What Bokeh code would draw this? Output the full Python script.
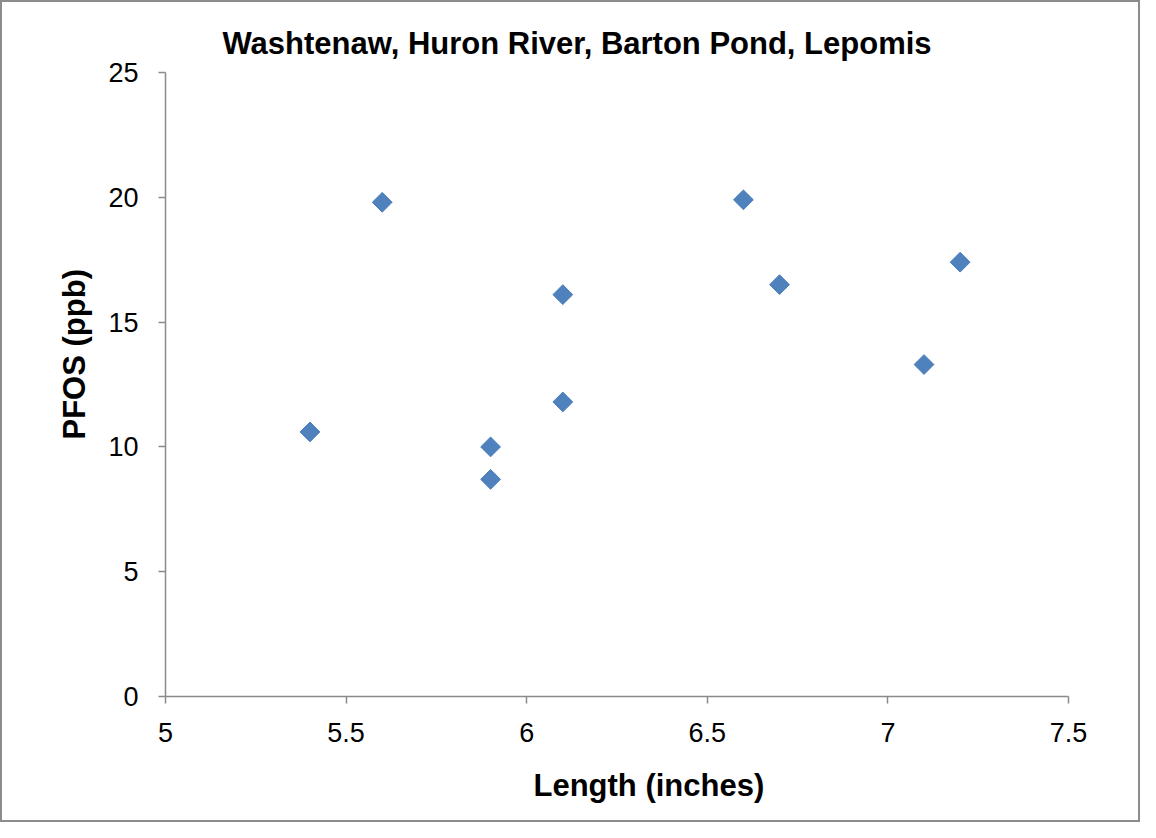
import math
from bokeh.plotting import figure
from bokeh.models import FixedTicker, Range1d, ColumnDataSource, Title
from bokeh.embed import file_html
from bokeh.resources import INLINE

# ---- data ----
length_in = [5.4, 5.6, 5.9, 5.9, 6.1, 6.1, 6.6, 6.7, 7.1, 7.2]
pfos_ppb = [10.6, 19.8, 10.0, 8.7, 16.1, 11.8, 19.9, 16.5, 13.3, 17.4]

x_ticks = [5, 5.5, 6, 6.5, 7, 7.5]
x_tick_labels = ["5", "5.5", "6", "6.5", "7", "7.5"]
y_ticks = [0, 5, 10, 15, 20, 25]
y_tick_labels = ["0", "5", "10", "15", "20", "25"]

title_text = "Washtenaw, Huron River, Barton Pond, Lepomis"
x_label = "Length (inches)"
y_label = "PFOS (ppb)"

FONT = "Liberation Sans"
AXIS_COLOR = "#8a8a8a"

p = figure(
    width=1140, height=822,
    x_range=Range1d(5, 7.5), y_range=Range1d(0, 25),
    output_backend="svg", toolbar_location=None,
    min_border_left=163, min_border_right=74,
    min_border_top=70, min_border_bottom=128,
)
p.styles = {"border": "2px solid #8c8c8c"}
p.outline_line_color = None
p.xgrid.visible = False
p.ygrid.visible = False
p.background_fill_color = "white"
p.border_fill_color = "white"

for ax, ticks, labels in ((p.xaxis[0], x_ticks, x_tick_labels), (p.yaxis[0], y_ticks, y_tick_labels)):
    ax.ticker = FixedTicker(ticks=ticks)
    ax.major_label_overrides = {t: l for t, l in zip(ticks, labels)}
    ax.axis_line_color = AXIS_COLOR
    ax.axis_line_width = 1.5
    ax.major_tick_line_color = AXIS_COLOR
    ax.major_tick_line_width = 1.5
    ax.major_tick_out = 7
    ax.major_tick_in = 0
    ax.minor_tick_line_color = None
    ax.major_label_text_font = FONT
    ax.major_label_text_font_size = "27px"
    ax.major_label_text_color = "black"

p.xaxis.major_label_standoff = 19
p.yaxis.major_label_standoff = 20

src = ColumnDataSource(data=dict(x=length_in, y=pfos_ppb))
p.scatter("x", "y", source=src, marker="square", size=14, angle=math.pi / 4,
          fill_color="#4F81BD", line_color="#4A7EBB", line_width=1)

# title
p.title.text = title_text
p.title.text_font = FONT
p.title.text_font_size = "31px"
p.title.text_font_style = "bold"
p.title.text_color = "black"
p.title.align = "left"
p.title.offset = 57
p.title.standoff = 24

# axis labels as side titles (offset gives exact placement)
xt = Title(text=x_label, text_font=FONT, text_font_size="31px", text_font_style="bold",
           text_color="black", align="left", offset=368, standoff=43)
p.add_layout(xt, "below")
yt = Title(text=y_label, text_font=FONT, text_font_size="31px", text_font_style="bold",
           text_color="black", align="left", offset=257, standoff=27)
p.add_layout(yt, "left")

open("out.html", "w").write(file_html(p, INLINE))
